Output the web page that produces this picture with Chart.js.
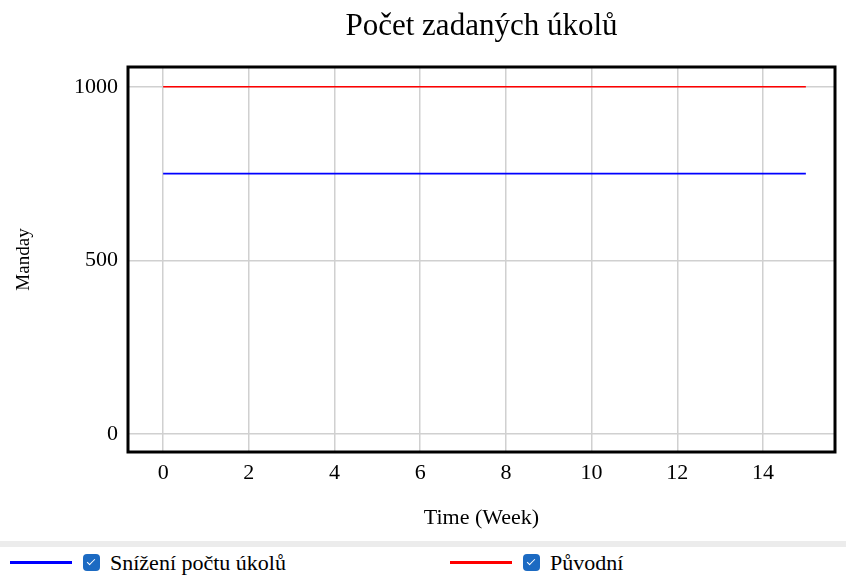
<!DOCTYPE html>
<html>
<head>
<meta charset="utf-8">
<script src="https://cdn.jsdelivr.net/npm/chart.js@4"></script>
<style>
  html, body { margin: 0; padding: 0; background: #fff; width: 846px; height: 575px; overflow: hidden; }
  #wrap { position: relative; width: 846px; height: 540px; }
  #bar { position: absolute; left: 0; top: 541px; width: 846px; height: 6px; background: #ececec; }
  #legend { position: absolute; left: 0; top: 550px; width: 846px; height: 25px; font-family: 'Liberation Serif', 'Times New Roman', serif; font-size: 22px; color: #000; }
  .item { position: absolute; top: 0; height: 25px; display: flex; align-items: center; }
  .line { width: 62px; height: 3px; margin-right: 11px; }
  .cb { width: 17px; height: 17px; border-radius: 4px; background: #1c6ac2; margin-right: 10px; position: relative; }
  .cb::after { content: ""; position: absolute; left: 6px; top: 3px; width: 3px; height: 7px; border: solid #fff; border-width: 0 1.5px 1.5px 0; transform: rotate(45deg); }
</style>
</head>
<body>
<div id="wrap"><canvas id="c" width="846" height="540"></canvas></div>
<div id="bar"></div>
<div id="legend"></div>
<script>
const chartTitle = "Počet zadaných úkolů";
const xTitle = "Time (Week)";
const yTitle = "Manday";
const weeks = [0, 1, 2, 3, 4, 5, 6, 7, 8, 9, 10, 11, 12, 13, 14, 15];
const seriesNames = ["Snížení počtu úkolů", "Původní"];
const seriesColors = ["#0000ff", "#ff0000"];
const snizeni = [750, 750, 750, 750, 750, 750, 750, 750, 750, 750, 750, 750, 750, 750, 750, 750];
const puvodni = [1000, 1000, 1000, 1000, 1000, 1000, 1000, 1000, 1000, 1000, 1000, 1000, 1000, 1000, 1000, 1000];
const xTicks = [0, 2, 4, 6, 8, 10, 12, 14];
const yTicks = [0, 500, 1000];

const seriesValues = [snizeni, puvodni];
const datasets = seriesValues.map((vals, i) => ({
  label: seriesNames[i],
  data: weeks.map((w, j) => ({ x: w, y: vals[j] })),
  borderColor: seriesColors[i],
  backgroundColor: seriesColors[i],
  borderWidth: 1.6,
  pointRadius: 0,
  tension: 0,
  fill: false
}));

const borderPlugin = {
  id: 'plotBorder',
  afterDraw(chart) {
    const { ctx, chartArea: a } = chart;
    ctx.save();
    ctx.strokeStyle = '#000';
    ctx.lineWidth = 3;
    ctx.strokeRect(a.left, a.top, a.right - a.left, a.bottom - a.top);
    ctx.restore();
  }
};

const serif = "'Liberation Serif', 'Times New Roman', serif";

new Chart(document.getElementById('c'), {
  type: 'line',
  data: { datasets },
  plugins: [borderPlugin],
  options: {
    responsive: false,
    animation: false,
    events: [],
    layout: { padding: { left: 0, right: 11, top: 0, bottom: 0 } },
    plugins: {
      legend: { display: false },
      tooltip: { enabled: false },
      title: {
        display: true,
        fullSize: false,
        text: chartTitle,
        color: '#000',
        font: { family: serif, size: 31, weight: 'normal', lineHeight: 1.2 },
        padding: { top: 8, bottom: 21.8 }
      }
    },
    scales: {
      x: {
        type: 'linear',
        min: -0.82,
        max: 15.68,
        afterBuildTicks(s) { s.ticks = xTicks.map(v => ({ value: v })); },
        afterFit(s) { s.height = 88; },
        grid: { color: '#d0d0d0', lineWidth: 1.5, drawTicks: false },
        border: { display: false },
        ticks: { color: '#000', font: { family: serif, size: 22 }, padding: 8, maxRotation: 0, autoSkip: false, callback: v => String(v) },
        title: { display: true, text: xTitle, color: '#000', font: { family: serif, size: 22 }, padding: { top: 0, bottom: 9 } }
      },
      y: {
        type: 'linear',
        min: -52,
        max: 1057,
        afterBuildTicks(s) { s.ticks = yTicks.map(v => ({ value: v })); },
        afterFit(s) { s.width = 128; },
        grid: { color: '#d0d0d0', lineWidth: 1.5, drawTicks: false },
        border: { display: false },
        ticks: { color: '#000', font: { family: serif, size: 22 }, padding: 10, autoSkip: false, callback: v => String(v) },
        title: { display: true, text: yTitle, color: '#000', font: { family: serif, size: 19 }, padding: { top: 13, bottom: 0 } }
      }
    }
  }
});

const legendEl = document.getElementById('legend');
const legendX = [10, 450];
seriesNames.forEach((name, i) => {
  const item = document.createElement('div');
  item.className = 'item';
  item.style.left = legendX[i] + 'px';
  const line = document.createElement('div');
  line.className = 'line';
  line.style.background = seriesColors[i];
  const cb = document.createElement('div');
  cb.className = 'cb';
  const txt = document.createElement('span');
  txt.style.fontFamily = serif;
  txt.textContent = name;
  item.appendChild(line); item.appendChild(cb); item.appendChild(txt);
  legendEl.appendChild(item);
});
</script>
</body>
</html>
